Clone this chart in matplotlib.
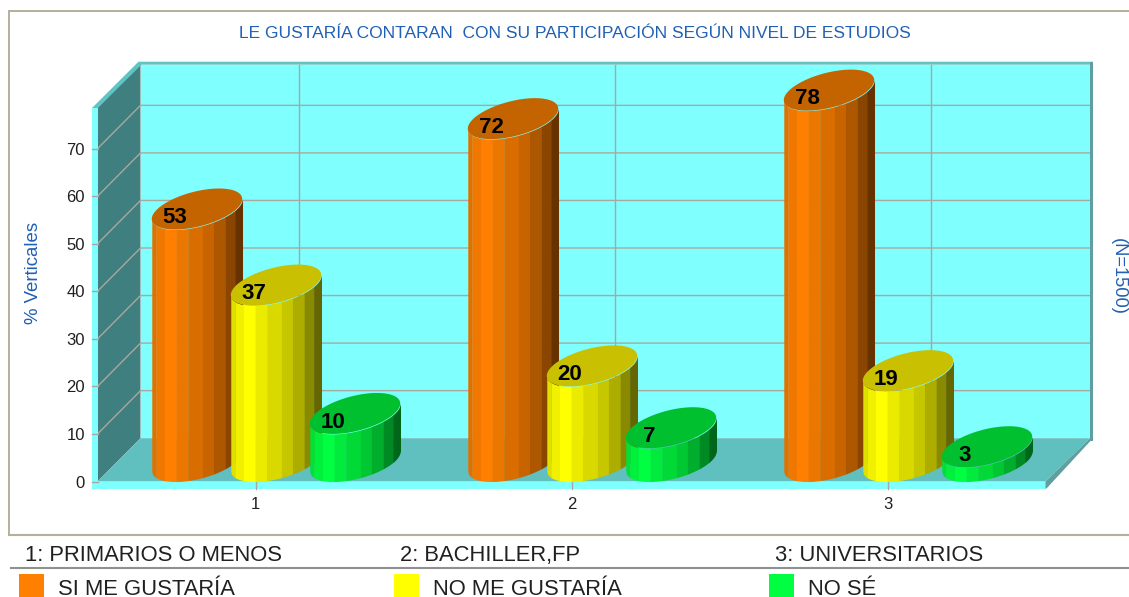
import numpy as np
import matplotlib
matplotlib.use("Agg")
import matplotlib.pyplot as plt
from matplotlib.lines import Line2D
from matplotlib.patches import Rectangle

plt.rcParams['font.family'] = ['Liberation Sans', 'DejaVu Sans']

categories = [1, 2, 3]
si_gustaria = [53, 72, 78]
no_gustaria = [37, 20, 19]
no_se = [10, 7, 3]
yticks = [0, 10, 20, 30, 40, 50, 60, 70]
series_names = ["SI ME GUSTARÍA", "NO ME GUSTARÍA", "NO SÉ"]
level_names = ["1: PRIMARIOS O MENOS", "2: BACHILLER,FP", "3: UNIVERSITARIOS"]
title = "LE GUSTARÍA CONTARAN  CON SU PARTICIPACIÓN SEGÚN NIVEL DE ESTUDIOS"

W, H = 1129, 597
BLUE = "#2060B4"
GRID = "#A8A8A0"

fig = plt.figure(figsize=(W / 100, H / 100), dpi=100, facecolor="white")

# axes = the front plane of the 3d box
left, right, bottom, top = 97.5, 1045.5, 481.5, 108
ax = fig.add_axes([left / W, 1 - bottom / H, (right - left) / W, (bottom - top) / H])
ax.set_xlim(0.5, 3.5)
ymax = (bottom - top) / 4.755
ax.set_ylim(0, ymax)
ax.patch.set_alpha(0)
for s in ax.spines.values():
    s.set_visible(False)

px_x = 3.0 / (right - left)
px_y = ymax / (bottom - top)
DX = 43 * px_x
DY = 43.3 * px_y
x0, x1 = 0.5, 3.5
RX = x1 + DX + 1.5 * px_x


def poly(xs, ys, color, z):
    ax.fill(xs, ys, color=color, lw=0, zorder=z, clip_on=False)


# walls
poly([x0 + DX, RX, RX, x0 + DX], [DY, DY, ymax + DY, ymax + DY], "#80FFFF", 1)
poly([x0, x0 + DX, x0 + DX, x0], [0, DY, ymax + DY, ymax], "#407F7F", 1)
poly([x0, x0 + DX, RX, x1], [0, DY, DY, 0], "#60BFBF", 1)

# grid on the walls
for v in yticks[1:]:
    ax.plot([x0, x0 + DX, RX], [v, v + DY, v + DY], color=GRID, lw=1.0, zorder=2, clip_on=False)
for c in categories:
    ax.plot([c + DX, c + DX], [DY, ymax + DY], color=GRID, lw=1.0, zorder=2, clip_on=False)

# front rim and edges
rim = 5.5 * px_x
rim_y = 7 * px_y
poly([x0 - rim, x0, x0, x1, x1, x0 - rim], [ymax, ymax, 0, 0, -rim_y, -rim_y], "#80FFFF", 3)
poly([x0 - rim, x0, x0 + DX + 1 * px_x, RX + 3 * px_x, RX + 3 * px_x, x0 + DX - 2 * px_x],
     [ymax, ymax, ymax + DY, ymax + DY, ymax + DY + 3 * px_y, ymax + DY + 3 * px_y],
     "#60C4C4", 3)
poly([RX, RX + 3 * px_x, RX + 3 * px_x, RX],
     [DY - 3 * px_y, DY - 3 * px_y, ymax + DY + 3 * px_y, ymax + DY + 3 * px_y], "#5F9F9F", 3)
poly([x1, RX, RX + 3 * px_x, x1 + 1 * px_x, x1],
     [0, DY, DY, -rim_y, -rim_y], "#5F9F9F", 3)
for v in yticks:
    ax.plot([x0 - rim, x0], [v, v], color=GRID, lw=1.0, zorder=3.5, clip_on=False)
for c in categories:
    ax.plot([c, c], [0, -rim_y], color=GRID, lw=1.0, zorder=3.5, clip_on=False)

# cylinders
series = [si_gustaria, no_gustaria, no_se]
base_colors = [np.array((255, 128, 0)), np.array((255, 255, 0)), np.array((0, 255, 64))]
tops = ["#C46400", "#C8C000", "#00C030"]
shades = [0.88, 0.94, 1.0, 0.92, 0.85, 0.78, 0.68, 0.54, 0.40]
strip_w = np.array([13, 27, 37, 37, 46, 35, 37, 30, 24], dtype=float)
bar_w = 79 * px_x
depth_x = 44 * px_x
depth_y = 41 * px_y

t = np.linspace(0, 2 * np.pi, 240)
tilt = np.arctan2(22, 39.5)
z = 4
for i, c in enumerate(categories):
    for j, vals in enumerate(series):
        v = vals[i]
        cx = c + (j - 1) * bar_w + depth_x / 2 - 1.5 * px_x
        cy = depth_y / 2
        ex = cx + bar_w / 2 * np.cos(t) + depth_x / 2 * np.sin(t)
        ey = cy + depth_y / 2 * np.sin(t)
        # lower half of the slanted ellipse gives the outline of the body
        tf = np.linspace(np.pi + tilt, 2 * np.pi + tilt, 200)
        fx = cx + bar_w / 2 * np.cos(tf) + depth_x / 2 * np.sin(tf)
        fy = cy + depth_y / 2 * np.sin(tf)
        edges = fx.min() + np.r_[0, np.cumsum(strip_w)] / strip_w.sum() * (fx.max() - fx.min())
        for k, sh in enumerate(shades):
            sx = np.linspace(edges[k], edges[k + 1] + 0.3 * px_x, 12)
            sy = np.interp(sx, fx, fy)
            ax.fill_between(sx, sy, sy + v, color=tuple(base_colors[j] * sh / 255), lw=0, zorder=z, clip_on=False)
        ax.fill(ex, ey + v, color=tops[j], lw=0, zorder=z + 0.1, clip_on=False)
        ax.text(cx - 22 * px_x, cy + v - 1.8, str(v), fontsize=16, color="black", ha="center",
                va="center", zorder=z + 0.2, fontweight="bold")
        z += 1

ax.set_xticks(categories)
ax.set_xticklabels([str(c) for c in categories])
ax.set_yticks(yticks)
ax.tick_params(axis="both", length=0, labelsize=12, colors="#202020")
ax.tick_params(axis="x", pad=11)
ax.tick_params(axis="y", pad=9)

# texts outside the axes
fig.text(574.5 / W, 1 - 33 / H, title, color=BLUE, fontsize=12.5, ha="center", va="center")
fig.text(34 / W, 1 - 273 / H, "% Verticales", color=BLUE, fontsize=13.4, rotation=90, ha="center", va="center")
fig.text(1118 / W, 1 - 276 / H, "(N=1500)", color=BLUE, fontsize=13.2, rotation=270, ha="center", va="center")

# frame and the legend rows
frame = "#B4B09C"
fig.add_artist(Line2D([9 / W, 9 / W], [1 - 11 / H, 1 - 534 / H], color=frame, lw=1.4))
fig.add_artist(Line2D([9 / W, 1], [1 - 11 / H, 1 - 11 / H], color=frame, lw=1.4))
fig.add_artist(Line2D([9 / W, 1], [1 - 534.5 / H, 1 - 534.5 / H], color=frame, lw=1.5))
fig.add_artist(Line2D([11 / W, 1], [1 - 568 / H, 1 - 568 / H], color="#909090", lw=1.5))

level_x = [25, 400, 775]
legend_x = [19, 394, 769]
legend_cols = ["#FF8000", "#FFFF00", "#00FF40"]
for k in range(3):
    fig.text(level_x[k] / W, 1 - 561 / H, level_names[k], color="#202020", fontsize=15.85, ha="left", va="baseline")
    fig.add_artist(Rectangle((legend_x[k] / W, 0), 25 / W, 23 / H, color=legend_cols[k], lw=0,
                             transform=fig.transFigure))
    fig.text((legend_x[k] + 39) / W, 1 - 595 / H, series_names[k], color="#202020", fontsize=15.85, ha="left", va="baseline")

fig.savefig("out.png", dpi=100)
